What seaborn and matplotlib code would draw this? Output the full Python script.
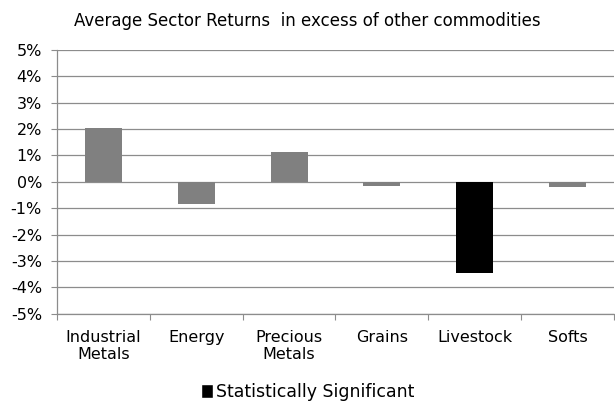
import seaborn as sns
import matplotlib.pyplot as plt
import pandas as pd
from matplotlib.patches import Patch
from matplotlib.ticker import FuncFormatter, MultipleLocator

sectors = ["Industrial\nMetals", "Energy", "Precious\nMetals", "Grains", "Livestock", "Softs"]
excess_returns = [2.05, -0.85, 1.12, -0.15, -3.45, -0.2]
significant = [False, False, False, False, True, False]

df = pd.DataFrame({"Sector": sectors, "Return": excess_returns, "Significant": significant})

sns.set_style("white")
plt.rcParams["font.family"] = ["DejaVu Sans"]
plt.rcParams["text.color"] = "black"
plt.rcParams["xtick.color"] = "#8c8c8c"
plt.rcParams["ytick.color"] = "#8c8c8c"
plt.rcParams["xtick.labelcolor"] = "black"
plt.rcParams["ytick.labelcolor"] = "black"

fig = plt.figure(figsize=(6.15, 4.05), dpi=100)
ax = fig.add_axes([0.093, 0.225, 0.905, 0.652])

sns.barplot(data=df, x="Sector", y="Return", hue="Significant",
            palette={False: "#808080", True: "#000000"}, dodge=False,
            width=0.4, legend=False, linewidth=0, saturation=1, ax=ax)

ax.set_ylim(-5, 5)
ax.set_xlim(-0.5, len(sectors) - 0.5)
ax.yaxis.set_major_locator(MultipleLocator(1))
ax.yaxis.set_major_formatter(FuncFormatter(lambda v, p: f"{v:.0f}%"))
ax.grid(axis="y", color="#8c8c8c", linewidth=0.9)
ax.set_axisbelow(True)
for s in ["top", "right"]:
    ax.spines[s].set_visible(False)
for s in ["left", "bottom"]:
    ax.spines[s].set_color("#8c8c8c")
    ax.spines[s].set_linewidth(0.9)

# tick marks between categories on the x axis, labels centred on the bars
ax.set_xticks([i - 0.5 for i in range(len(sectors) + 1)], minor=False)
ax.set_xticklabels([])
ax.set_xticks(range(len(sectors)), minor=True)
ax.set_xticklabels(sectors, minor=True, fontsize=11.5)
ax.tick_params(axis="x", which="major", length=4.5, direction="out", bottom=True)
ax.tick_params(axis="x", which="minor", length=0, pad=11.5)
ax.tick_params(axis="y", length=4.5, direction="out", left=True, labelsize=11.5, pad=6.5)
ax.set_xlabel("")
ax.set_ylabel("")

fig.suptitle("Average Sector Returns  in excess of other commodities", fontsize=12, y=0.947,
             va="center")

handles = [Patch(facecolor="black", label="Statistically Significant")]
fig.legend(handles=handles, loc="center", bbox_to_anchor=(0.5, 0.032), frameon=False,
           fontsize=12.5, handlelength=0.7, handleheight=0.9, handletextpad=0.2)

fig.savefig("out.png", dpi=100)
